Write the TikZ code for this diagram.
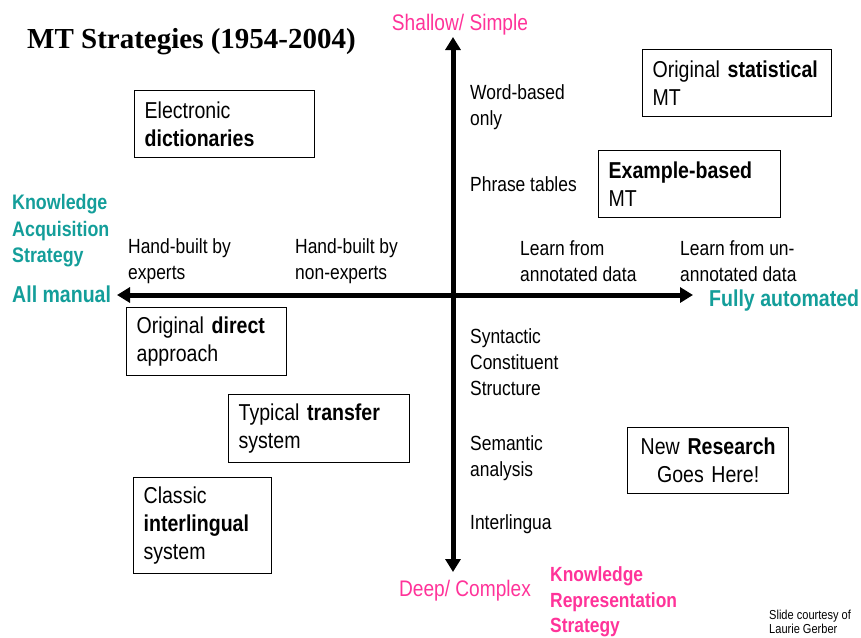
\documentclass[tikz,border=0pt]{standalone}
\usepackage{fontspec}
\setmainfont{Liberation Sans}[FakeStretch=0.85]
\newfontfamily\titlefont{Liberation Serif}
\usetikzlibrary{arrows.meta}
\definecolor{reppink}{RGB}{255,51,153}
\definecolor{acqteal}{RGB}{20,158,154}
\tikzset{
  axis/.style={line width=5pt,
    {Triangle[length=13pt,width=15pt]}-{Triangle[length=13pt,width=15pt]}},
  sysbox/.style={draw, line width=1.3pt, anchor=north west, inner xsep=10pt,
    inner ysep=0pt, align=left, font=\fontsize{23}{28}\selectfont},
  lbl/.style={anchor=west, align=left, inner sep=0pt,
    font=\fontsize{20.5}{26}\selectfont},
  pinklbl/.style={inner sep=0pt, text=reppink, font=\fontsize{22.5}{26}\selectfont},
  teallbl/.style={anchor=west, align=left, inner sep=0pt, text=acqteal,
    font=\fontsize{21}{26.5}\selectfont\bfseries}
}

\begin{document}
\begin{tikzpicture}[x=1pt,y=-1pt]
  \useasboundingbox (0,0) rectangle (861,637);

  % title
  \node[anchor=west, inner sep=0pt, font=\titlefont\fontsize{29}{32}\selectfont\bfseries]
    (title) at (27,42) {MT Strategies (1954-2004)};

  % axes
  \coordinate (top) at (453,37);
  \coordinate (bottom) at (453,572);
  \coordinate (left) at (117,295);
  \coordinate (right) at (693,295);
  \draw[axis] (bottom) -- (top);
  \draw[axis] (left) -- (right);

  % axis ends
  \node[pinklbl] (shallow) at (460,25) {Shallow/ Simple};
  \node[pinklbl] (deep) at (465,591) {Deep/ Complex};
  \node[pinklbl, anchor=west, align=left, font=\fontsize{20.5}{25.5}\selectfont\bfseries]
    (reprstrat) at (550,602) {Knowledge\\Representation\\Strategy};
  \node[teallbl] (acqstrat) at (12,231) {Knowledge\\Acquisition\\Strategy};
  \node[teallbl, font=\fontsize{23}{26}\selectfont\bfseries] (manual) at (12,294) {All manual};
  \node[teallbl, font=\fontsize{23}{26}\selectfont\bfseries] (automated) at (709,301) {Fully automated};

  % acquisition steps
  \node[lbl] (experts) at (128,261) {Hand-built by\\experts};
  \node[lbl] (nonexperts) at (295,261) {Hand-built by\\non-experts};
  \node[lbl] (annotated) at (520,261) {Learn from\\annotated data};
  \node[lbl] (unannotated) at (680,261) {Learn from un-\\annotated data};

  % representation steps
  \node[lbl] (wordbased) at (470,107) {Word-based\\only};
  \node[lbl] (phrase) at (470,184) {Phrase tables};
  \node[lbl] (syntactic) at (470,362) {Syntactic\\Constituent\\Structure};
  \node[lbl] (semantic) at (470,458) {Semantic\\analysis};
  \node[lbl] (interlingua) at (470,524) {Interlingua};

  % systems
  \node[sysbox, text width=160pt, minimum height=67pt] (dict) at (134,90)
    {Electronic\\\textbf{dictionaries}};
  \node[sysbox, text width=169pt, minimum height=67pt] (statmt) at (642,49)
    {Original \textbf{statistical}\\MT};
  \node[sysbox, text width=162pt, minimum height=67pt] (ebmt) at (598,150)
    {\textbf{Example-based}\\MT};
  \node[sysbox, text width=140pt, minimum height=68pt] (direct) at (126,307)
    {Original \textbf{direct}\\approach};
  \node[sysbox, text width=161pt, minimum height=68pt] (transfer) at (228,394)
    {Typical \textbf{transfer}\\system};
  \node[sysbox, text width=118pt, minimum height=96pt] (interling) at (133,477)
    {Classic\\\textbf{interlingual}\\system};
  \node[sysbox, text width=141pt, minimum height=66pt, align=center] (research) at (627,427)
    {New \textbf{Research}\\Goes Here!};

  % credit
  \node[anchor=west, align=left, inner sep=0pt, font=\fontsize{13}{13.5}\selectfont]
    (credit) at (769,622) {Slide courtesy of\\Laurie Gerber};
\end{tikzpicture}
\end{document}
